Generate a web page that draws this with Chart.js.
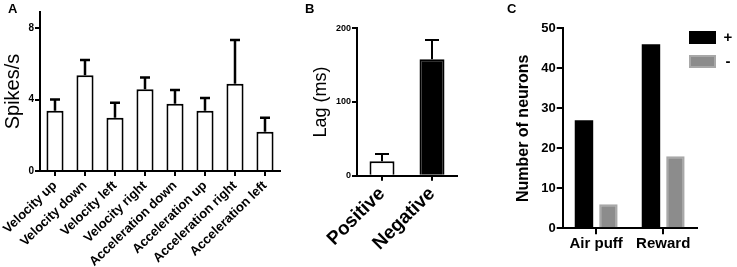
<!DOCTYPE html>
<html><head><meta charset="utf-8">
<script src="https://cdn.jsdelivr.net/npm/chart.js@4.4.1/dist/chart.umd.min.js"></script>
<style>
html,body{margin:0;padding:0;background:#fff;width:737px;height:267px;overflow:hidden;font-family:"Liberation Sans",Arial,sans-serif;}
.panel{position:absolute;top:0;height:267px;}
.lbl{position:absolute;top:1px;font:bold 13px "Liberation Sans",Arial,sans-serif;color:#000;}
</style></head><body>
<div class="panel" style="left:0;width:290px"><canvas id="cA"></canvas></div>
<div class="panel" style="left:290px;width:185px"><canvas id="cB"></canvas></div>
<div class="panel" style="left:480px;width:257px"><canvas id="cC"></canvas></div>
<div class="lbl" style="left:8px">A</div>
<div class="lbl" style="left:305px">B</div>
<div class="lbl" style="left:507px">C</div>
<script>
// ---- Panel A data ----
const movementCategories = ['Velocity up','Velocity down','Velocity left','Velocity right','Acceleration down','Acceleration up','Acceleration right','Acceleration left'];
const spikesMean = [3.37, 5.36, 2.98, 4.58, 3.76, 3.37, 4.89, 2.20];
const spikesSem  = [0.63, 0.86, 0.84, 0.65, 0.78, 0.71, 2.44, 0.78];
const spikesTicks = [0, 4, 8];
const spikesAxisMax = 8.9;
// ---- Panel B data ----
const lagCategories = ['Positive','Negative'];
const lagMean = [19.5, 158];
const lagSem  = [10, 26];
const lagTicks = [0, 100, 200];
const lagAxisMax = 200;
// ---- Panel C data ----
const neuronCategories = ['Air puff','Reward'];
const neuronsPlus  = [27, 46];
const neuronsMinus = [6, 18];
const neuronTicks = [0, 10, 20, 30, 40, 50];
const neuronAxisMax = 50;
const seriesLabels = ['+', '-'];

const FONT = '"Liberation Sans", Arial, sans-serif';
Chart.defaults.font.family = FONT;
Chart.defaults.color = '#000';

const errorBarPlugin = {
  id: 'errorBars',
  afterDatasetsDraw(chart) {
    const ctx = chart.ctx;
    chart.data.datasets.forEach((ds, di) => {
      if (!ds.errors) return;
      const meta = chart.getDatasetMeta(di);
      const yScale = chart.scales[meta.yAxisID];
      ctx.save();
      ctx.strokeStyle = '#000';
      ctx.lineWidth = ds.errorLineWidth || 2;
      meta.data.forEach((bar, i) => {
        const x = bar.x;
        const y0 = yScale.getPixelForValue(ds.data[i]);
        const y1 = yScale.getPixelForValue(ds.data[i] + ds.errors[i]);
        const h = (ds.capWidth || 10) / 2;
        ctx.beginPath();
        ctx.moveTo(x, y0); ctx.lineTo(x, y1);
        ctx.moveTo(x - h, y1); ctx.lineTo(x + h, y1);
        ctx.stroke();
      });
      ctx.restore();
    });
  }
};

const boxLegendPlugin = {
  id: 'boxLegend',
  afterDraw(chart, args, opts) {
    const ctx = chart.ctx;
    ctx.save();
    chart.data.datasets.forEach((ds, i) => {
      const x = opts.x, y = opts.y + i * opts.step;
      ctx.fillStyle = ds.backgroundColor;
      ctx.fillRect(x, y, opts.boxW, opts.boxH);
      if (ds.borderWidth) {
        ctx.strokeStyle = ds.borderColor;
        ctx.lineWidth = ds.borderWidth;
        ctx.strokeRect(x + ds.borderWidth/2, y + ds.borderWidth/2, opts.boxW - ds.borderWidth, opts.boxH - ds.borderWidth);
      }
      ctx.fillStyle = '#000';
      ctx.font = 'bold ' + opts.fontSize + 'px ' + FONT;
      ctx.textBaseline = 'middle';
      ctx.textAlign = 'center';
      ctx.fillText(ds.label, opts.textX, y + opts.boxH / 2);
    });
    ctx.restore();
  }
};

function axisY(ticks, max, width, titleText, titleFont, titlePad, tickFont, tickLen) {
  return {
    min: 0, max: max,
    afterBuildTicks: s => { s.ticks = ticks.map(v => ({value: v})); },
    afterFit: s => { s.width = width; },
    border: {display: true, color: '#000', width: 2},
    grid: {display: true, drawOnChartArea: false, drawTicks: true, tickLength: tickLen, color: '#000', lineWidth: 2},
    ticks: {font: tickFont, color: '#000', padding: 1},
    title: {display: true, text: titleText, font: titleFont, color: '#000', padding: {top: titlePad, bottom: 0}}
  };
}
function axisX(height, tickFont, rotation, tickLen, pad) {
  return {
    afterFit: s => { s.height = height; },
    border: {display: true, color: '#000', width: 2},
    grid: {display: true, drawOnChartArea: false, drawTicks: true, tickLength: tickLen, color: '#000', lineWidth: 2, offset: false},
    ticks: {font: tickFont, color: '#000', minRotation: rotation, maxRotation: rotation, autoSkip: false, padding: pad}
  };
}
const common = {
  responsive: true, maintainAspectRatio: false, animation: false, events: [],
  devicePixelRatio: 1
};

new Chart(document.getElementById('cA'), {
  type: 'bar',
  data: {
    labels: movementCategories,
    datasets: [{
      data: spikesMean, errors: spikesSem, capWidth: 10, errorLineWidth: 2.5,
      backgroundColor: '#fff', borderColor: '#000', borderWidth: 2,
      categoryPercentage: 1, barPercentage: 0.57
    }]
  },
  options: Object.assign({}, common, {
    layout: {padding: {left: 0, right: 10, top: 12, bottom: 0}},
    plugins: {legend: {display: false}, tooltip: {enabled: false}},
    scales: {
      x: axisX(96, {size: 13, weight: 'bold'}, 44, 5, 2),
      y: axisY(spikesTicks, spikesAxisMax, 40, 'Spikes/s', {size: 20}, 1, {size: 10, weight: 'bold'}, 5)
    }
  }),
  plugins: [errorBarPlugin]
});

new Chart(document.getElementById('cB'), {
  type: 'bar',
  data: {
    labels: lagCategories,
    datasets: [{
      data: lagMean, errors: lagSem, capWidth: 14, errorLineWidth: 2,
      backgroundColor: ['#fff', '#000'], borderColor: '#000', borderWidth: 2,
      categoryPercentage: 1, barPercentage: 0.5
    }]
  },
  options: Object.assign({}, common, {
    layout: {padding: {left: 0, right: 18, top: 28.3, bottom: 0}},
    plugins: {legend: {display: false}, tooltip: {enabled: false}},
    scales: {
      x: axisX(91.3, {size: 19, weight: 'bold'}, 45, 5, 2),
      y: axisY(lagTicks, lagAxisMax, 67, 'Lag (ms)', {size: 18}, 20.3, {size: 9, weight: 'bold'}, 5)
    }
  }),
  plugins: [errorBarPlugin]
});

new Chart(document.getElementById('cC'), {
  type: 'bar',
  data: {
    labels: neuronCategories,
    datasets: [
      {label: seriesLabels[0], data: neuronsPlus, backgroundColor: '#000', borderWidth: 0,
       categoryPercentage: 0.73, barPercentage: 0.755},
      {label: seriesLabels[1], data: neuronsMinus, backgroundColor: '#8c8c8c', borderColor: '#a8a8a8', borderWidth: 2,
       categoryPercentage: 0.73, barPercentage: 0.755}
    ]
  },
  options: Object.assign({}, common, {
    layout: {padding: {left: 0, right: 40.3, top: 28.3, bottom: 0}},
    plugins: {
      legend: {display: false}, tooltip: {enabled: false},
      boxLegend: {x: 209, y: 31, step: 24, boxW: 27, boxH: 13, textX: 248, fontSize: 15}
    },
    scales: {
      x: axisX(38.7, {size: 15, weight: 'bold'}, 0, 6, 1),
      y: axisY(neuronTicks, neuronAxisMax, 82.7, 'Number of neurons', {size: 16, weight: 'bold'}, 34.4, {size: 13, weight: 'bold'}, 6)
    }
  }),
  plugins: [boxLegendPlugin]
});
</script>
</body></html>
